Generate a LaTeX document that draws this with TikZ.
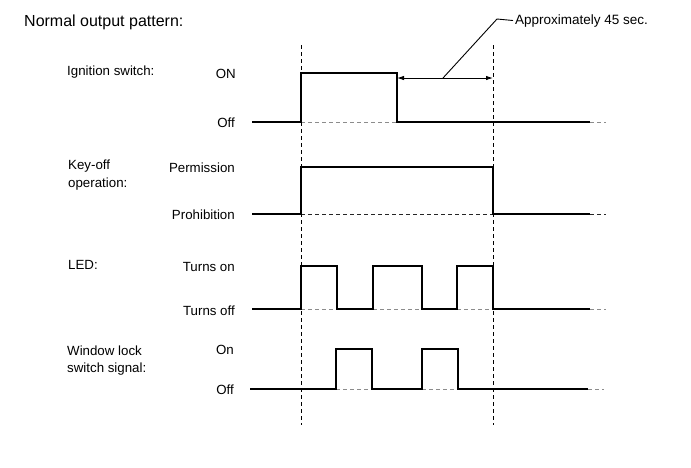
\documentclass[tikz,border=0pt]{standalone}
\usepackage{fontspec}
\setmainfont{Liberation Sans}
\usetikzlibrary{arrows.meta}
\begin{document}
\begin{tikzpicture}[x=1pt,y=-1pt,
 sig/.style={line width=1.2pt, line join=miter},
 guide/.style={line width=0.9pt, dash pattern=on 4pt off 3pt},
 base/.style={line width=0.9pt, black!45, dash pattern=on 4pt off 3pt},
 darkbase/.style={line width=0.9pt, black!85, dash pattern=on 4pt off 3pt},
 lbl/.style={font=\fontsize{13.3}{16}\selectfont, inner sep=0pt, anchor=base west},
 lvl/.style={font=\fontsize{13.3}{16}\selectfont, inner sep=0pt, anchor=base east},
 ]
\useasboundingbox (0,0) rectangle (691,467);
% title
\node[inner sep=0pt, anchor=base west, font=\fontsize{16}{18}\selectfont] (title) at (24,26) {Normal output pattern:};
% signal names
\node[lbl] (ign) at (67,75) {Ignition switch:};
\node[lbl] (key1) at (68,169) {Key-off};
\node[lbl] (key2) at (68,187) {operation:};
\node[lbl] (led) at (68,269) {LED:};
\node[lbl] (win1) at (67,355) {Window lock};
\node[lbl] (win2) at (67,372) {switch signal:};
% level names
\node[lvl] (ignon) at (236,78) {ON};
\node[lvl] (ignoff) at (235,127) {Off};
\node[lvl] (perm) at (235,172) {Permission};
\node[lvl] (proh) at (235,219) {Prohibition};
\node[lvl] (ledon) at (235,271) {Turns on};
\node[lvl] (ledoff) at (235,315) {Turns off};
\node[lvl] (winon) at (234,354) {On};
\node[lvl] (winoff) at (234,394) {Off};
% vertical guides
\coordinate (g1t) at (301,45); \coordinate (g1b) at (301,425);
\coordinate (g2t) at (493,45); \coordinate (g2b) at (493,425);
\draw[guide] (g1t) -- (g1b);
\draw[guide] (g2t) -- (g2b);
% ignition switch
\draw[base] (301,122) -- (397,122);
\draw[base] (590,122) -- (606,122);
\draw[sig] (252,122) -- (301,122) -- (301,73) -- (397,73) -- (397,122) -- (590,122);
% key-off operation
\draw[darkbase] (301,214) -- (493,214);
\draw[darkbase] (590,214) -- (606,214);
\draw[sig] (252,214) -- (301,214) -- (301,167) -- (493,167) -- (493,214) -- (590,214);
% LED
\draw[base] (301,309) -- (337,309) (373,309) -- (422,309) (457,309) -- (493,309);
\draw[base] (590,309) -- (606,309);
\draw[sig] (252,309) -- (301,309) -- (301,266) -- (337,266) -- (337,309) -- (373,309) -- (373,266) -- (422,266) -- (422,309) -- (457,309) -- (457,266) -- (493,266) -- (493,309) -- (590,309);
% window lock switch signal
\draw[base] (336,389) -- (372,389) (422,389) -- (458,389);
\draw[base] (588,389) -- (604,389);
\draw[sig] (250,389) -- (336,389) -- (336,349) -- (372,349) -- (372,389) -- (422,389) -- (422,349) -- (458,349) -- (458,389) -- (588,389);
% duration annotation
\coordinate (a1) at (397,78);
\coordinate (a2) at (493,78);
\coordinate (lead) at (443,78);
\coordinate (bend) at (497,19);
\draw[line width=0.9pt, {Latex[length=7pt,width=4.5pt]}-{Latex[length=7pt,width=4.5pt]}] (a1) -- (a2);
\node[inner sep=0pt, anchor=base west, font=\fontsize{13.5}{16}\selectfont] (approx) at (515,24) {Approximately 45 sec.};
\draw[line width=0.9pt] (lead) -- (bend) -- (approx.west -| 513,0);
\end{tikzpicture}
\end{document}
